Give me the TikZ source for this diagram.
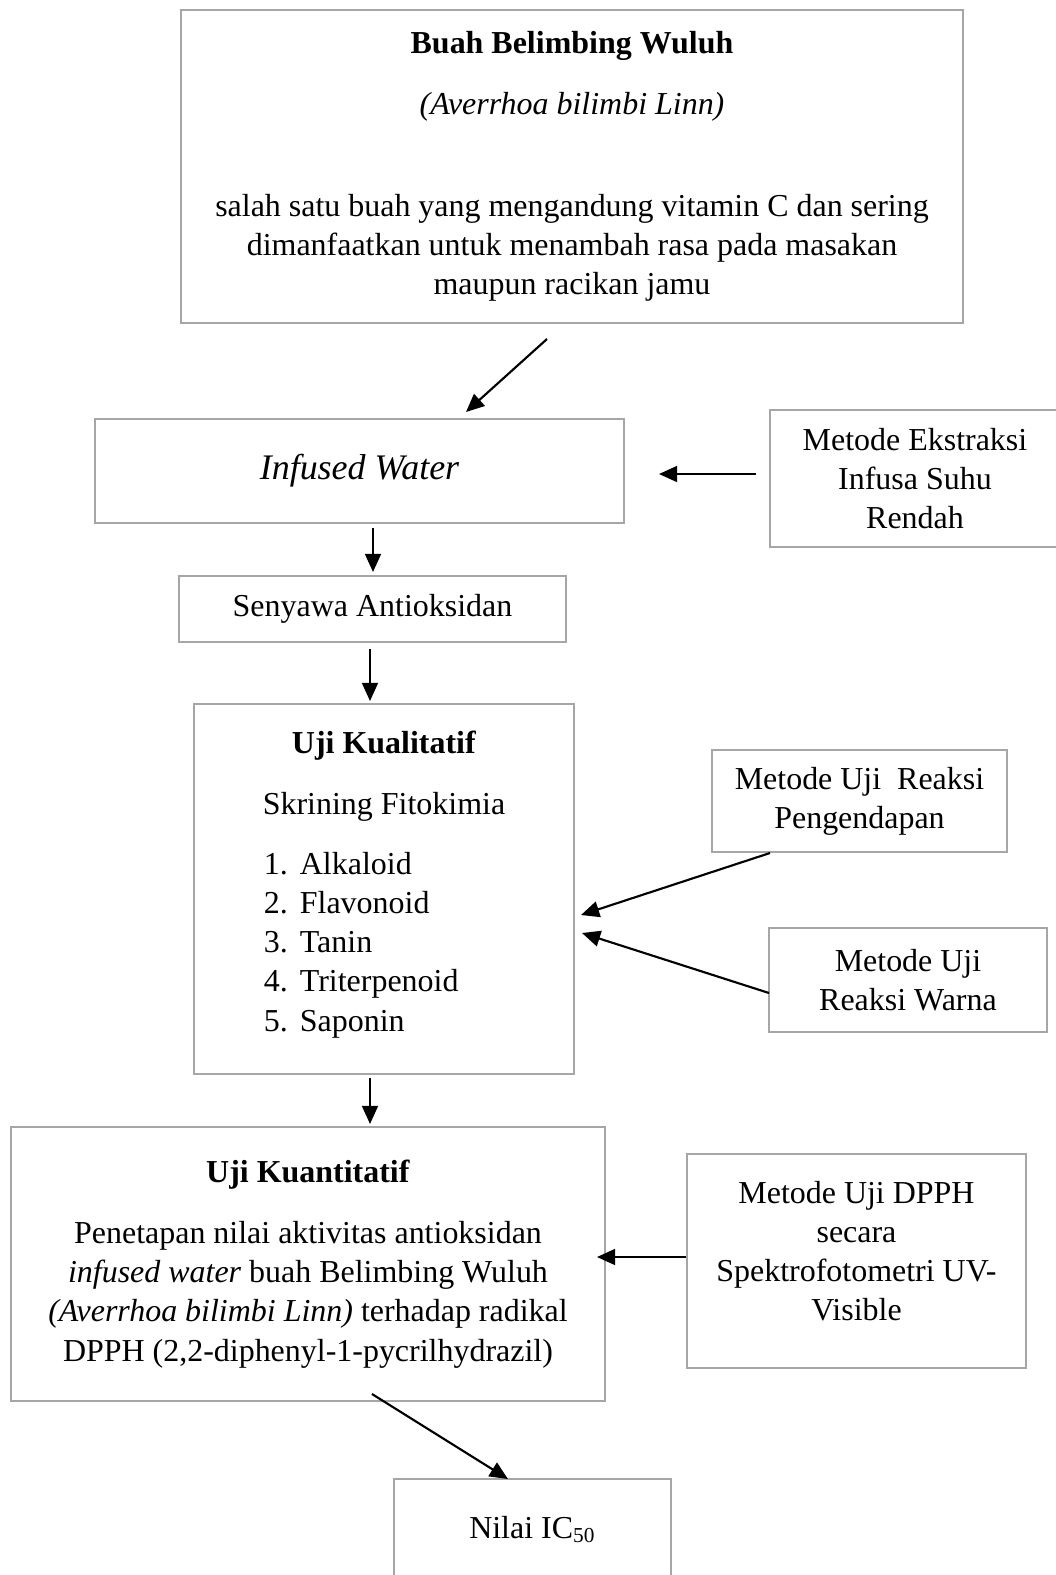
\documentclass[tikz,border=0pt]{standalone}
\usepackage{fontspec}
\setmainfont{Liberation Serif}
\usetikzlibrary{arrows.meta}

\newdimen\px
\px=0.0132cm

\begin{document}
\begin{tikzpicture}[x=0.0132cm, y=-0.0132cm,
    box/.style={draw=black!35, line width=0.75pt, align=center, inner sep=0pt,
        font=\fontsize{12}{14.7}\selectfont},
    arr/.style={-{Triangle[length=2.4mm,width=2.1mm]}, line width=0.8pt}]
        \useasboundingbox (0,0) rectangle (1056,1575);

        \node[box, minimum width=782*\px, minimum height=313*\px] (buah) at (572,166.5)
            {\textbf{Buah Belimbing Wuluh}\\[0.28cm]
             \textit{(Averrhoa bilimbi Linn)}\\[0.83cm]
             salah satu buah yang mengandung vitamin C dan sering\\
             dimanfaatkan untuk menambah rasa pada masakan\\
             maupun racikan jamu};

        \node[box, minimum width=529*\px, minimum height=104*\px,
              font=\fontsize{13.5}{16}\selectfont\itshape] (infused) at (359.5,471) {Infused Water};
        \node[box, minimum width=290*\px, minimum height=137*\px] (ekstraksi) at (915,478.5)
            {Metode Ekstraksi\\ Infusa Suhu\\ Rendah};
        \node[box, minimum width=387*\px, minimum height=66*\px] (senyawa) at (372.5,609)
            {Senyawa Antioksidan};

        \node[box, minimum width=380*\px, minimum height=370*\px] (kualitatif) at (384,889)
            {\textbf{Uji Kualitatif}\\[0.29cm]
             Skrining Fitokimia\\[0.28cm]
             \makebox[3.17cm][l]{\makebox[0.475cm][l]{1.}Alkaloid}\\
             \makebox[3.17cm][l]{\makebox[0.475cm][l]{2.}Flavonoid}\\
             \makebox[3.17cm][l]{\makebox[0.475cm][l]{3.}Tanin}\\
             \makebox[3.17cm][l]{\makebox[0.475cm][l]{4.}Triterpenoid}\\
             \makebox[3.17cm][l]{\makebox[0.475cm][l]{5.}Saponin}\\[-0.3cm]\mbox{}};
        \node[box, minimum width=295*\px, minimum height=102*\px] (endapan) at (859.5,801)
            {Metode Uji\ \ Reaksi\\ Pengendapan};
        \node[box, minimum width=278*\px, minimum height=104*\px] (warna) at (908,980)
            {Metode Uji\\ Reaksi Warna};

        \node[box, minimum width=594*\px, minimum height=274*\px] (kuantitatif) at (308,1264)
            {\textbf{Uji Kuantitatif}\\[0.29cm]
             Penetapan nilai aktivitas antioksidan\\
             \textit{infused water} buah Belimbing Wuluh\\
             \textit{(Averrhoa bilimbi Linn)} terhadap radikal\\
             DPPH (2,2-diphenyl-1-pycrilhydrazil)};
        \node[box, minimum width=339*\px, minimum height=214*\px] (dpph) at (856.5,1261)
            {Metode Uji DPPH\\ secara\\ Spektrofotometri UV-\\ Visible\\[-0.25cm]\mbox{}};

        \node[box, anchor=north, minimum width=277*\px, text height=59*\px, text depth=120*\px]
            (ic) at (532.5,1478) {Nilai IC\textsubscript{50}};

        % connectors
        \draw[arr] ([shift={(-25,15)}]buah.south) -- ([shift={(106.5,-6)}]infused.north);
        \draw[arr] ([shift={(-13,-4.5)}]ekstraksi.west) -- ([shift={(34,3)}]infused.east);
        \draw[arr] ([shift={(13.5,4)}]infused.south) -- ([shift={(0.5,-3)}]senyawa.north);
        \draw[arr] ([shift={(-2.5,6)}]senyawa.south) -- ([shift={(-14,-2)}]kualitatif.north);
        \draw[arr] ([shift={(-89.5,0)}]endapan.south) -- ([shift={(6,26)}]kualitatif.east);
        \draw[arr] ([shift={(1,13)}]warna.west) -- ([shift={(7,44)}]kualitatif.east);
        \draw[arr] ([shift={(-14,3)}]kualitatif.south) -- ([shift={(62,-2)}]kuantitatif.north);
        \draw[arr] ([shift={(0,-4)}]dpph.west) -- ([shift={(-9,-7)}]kuantitatif.east);
        \draw[arr] ([shift={(64,-8)}]kuantitatif.south) -- ([shift={(-24.5,1)}]ic.north);
    \end{tikzpicture}
\end{document}
